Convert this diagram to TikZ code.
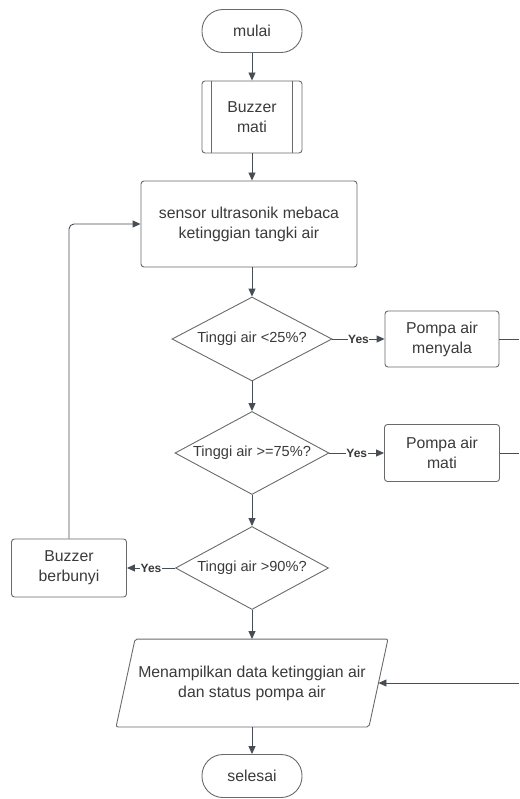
\documentclass[tikz,border=0pt]{standalone}
\usepackage{fontspec}
\setmainfont{Liberation Sans}
\usetikzlibrary{shapes.geometric,arrows.meta,calc}
\definecolor{shapeline}{HTML}{6A6A6A}
\definecolor{conn}{HTML}{474D55}
\definecolor{txt}{HTML}{3A3A3A}
\tikzset{
  base/.style={draw=shapeline, line width=0.9pt, text=txt, inner sep=0pt, align=center,
    font=\fontsize{15.8}{20}\selectfont},
  term/.style={base, rectangle, rounded corners=21pt, minimum width=100pt, minimum height=43pt},
  procbox/.style={base, rectangle, rounded corners=3pt},
  decis/.style={base, diamond, font=\fontsize{14.6}{18}\selectfont},
  io/.style={base, draw=none, rectangle, minimum width=252pt, minimum height=87pt},
  conline/.style={draw=conn, line width=0.9pt},
  arr/.style={conline, -{Triangle[length=8pt,width=7pt]}},
  yes/.style={fill=white, text=txt, inner sep=0.5pt, font=\fontsize{12}{14}\bfseries\selectfont}
}
\begin{document}
\begin{tikzpicture}[x=1pt,y=-1pt]
\useasboundingbox (0,0) rectangle (519,799);
\node[term] (start) at (252,31) {mulai};
\node[procbox, minimum width=100pt, minimum height=72pt] (buzz) at (252,117) {Buzzer\\mati};
\draw[shapeline, line width=0.9pt] ([xshift=10pt]buzz.north west) -- ([xshift=10pt]buzz.south west);
\draw[shapeline, line width=0.9pt] ([xshift=-10pt]buzz.north east) -- ([xshift=-10pt]buzz.south east);
\node[procbox, minimum width=216pt, minimum height=86pt] (sensor) at (249,224) {sensor ultrasonik mebaca\\ketinggian tangki air};
\node[decis, minimum width=160pt, minimum height=84pt] (d1) at (252,339) {\makebox[0pt]{Tinggi air <25\%?}};
\node[procbox, minimum width=114pt, minimum height=56pt] (p1) at (442,339) {Pompa air\\menyala};
\node[decis, minimum width=154pt, minimum height=83pt] (d2) at (252,453) {\makebox[0pt]{Tinggi air >=75\%?}};
\node[procbox, minimum width=115pt, minimum height=57pt] (p2) at (442,453) {Pompa air\\mati};
\node[decis, minimum width=153pt, minimum height=83pt] (d3) at (252,568) {\makebox[0pt]{Tinggi air >90\%?}};
\node[procbox, minimum width=115pt, minimum height=58pt] (bb) at (69,568) {Buzzer\\berbunyi};
\node[io] (disp) at (252,683) {Menampilkan data ketinggian air\\dan status pompa air};
\draw[shapeline, line width=0.9pt, rounded corners=2pt]
  ([xshift=9.5pt]disp.north west) -- ([xshift=9.5pt]disp.north east) --
  ([xshift=-9.5pt]disp.south east) -- ([xshift=-9.5pt]disp.south west) -- cycle;
\node[term] (stop) at (252,776) {selesai};
\coordinate (r1) at (519,339);
\coordinate (r2) at (519,453);
\coordinate (r3) at (519,683);

\draw[arr] (start) -- (buzz);
\draw[arr] (buzz) -- (sensor.north -| buzz.south);
\draw[arr] (sensor.south -| d1.north) -- (d1.north);
\draw[arr] (d1) -- (d2);
\draw[arr] (d2) -- (d3);
\draw[arr] (d3) -- (disp);
\draw[arr] (disp) -- (stop);
\draw[arr] (d1.east) -- node[yes] {Yes} (p1.west);
\draw[arr] (d2.east) -- node[yes] {Yes} (p2.west);
\draw[arr] (d3.west) -- node[yes] {Yes} (bb.east);
\draw[arr, rounded corners=5pt] (bb.north) |- (sensor.west);
\draw[conline] (p1.east) -- (r1);
\draw[conline] (p2.east) -- (r2);
\draw[arr] (r3) -- (disp.east);
\end{tikzpicture}
\end{document}
